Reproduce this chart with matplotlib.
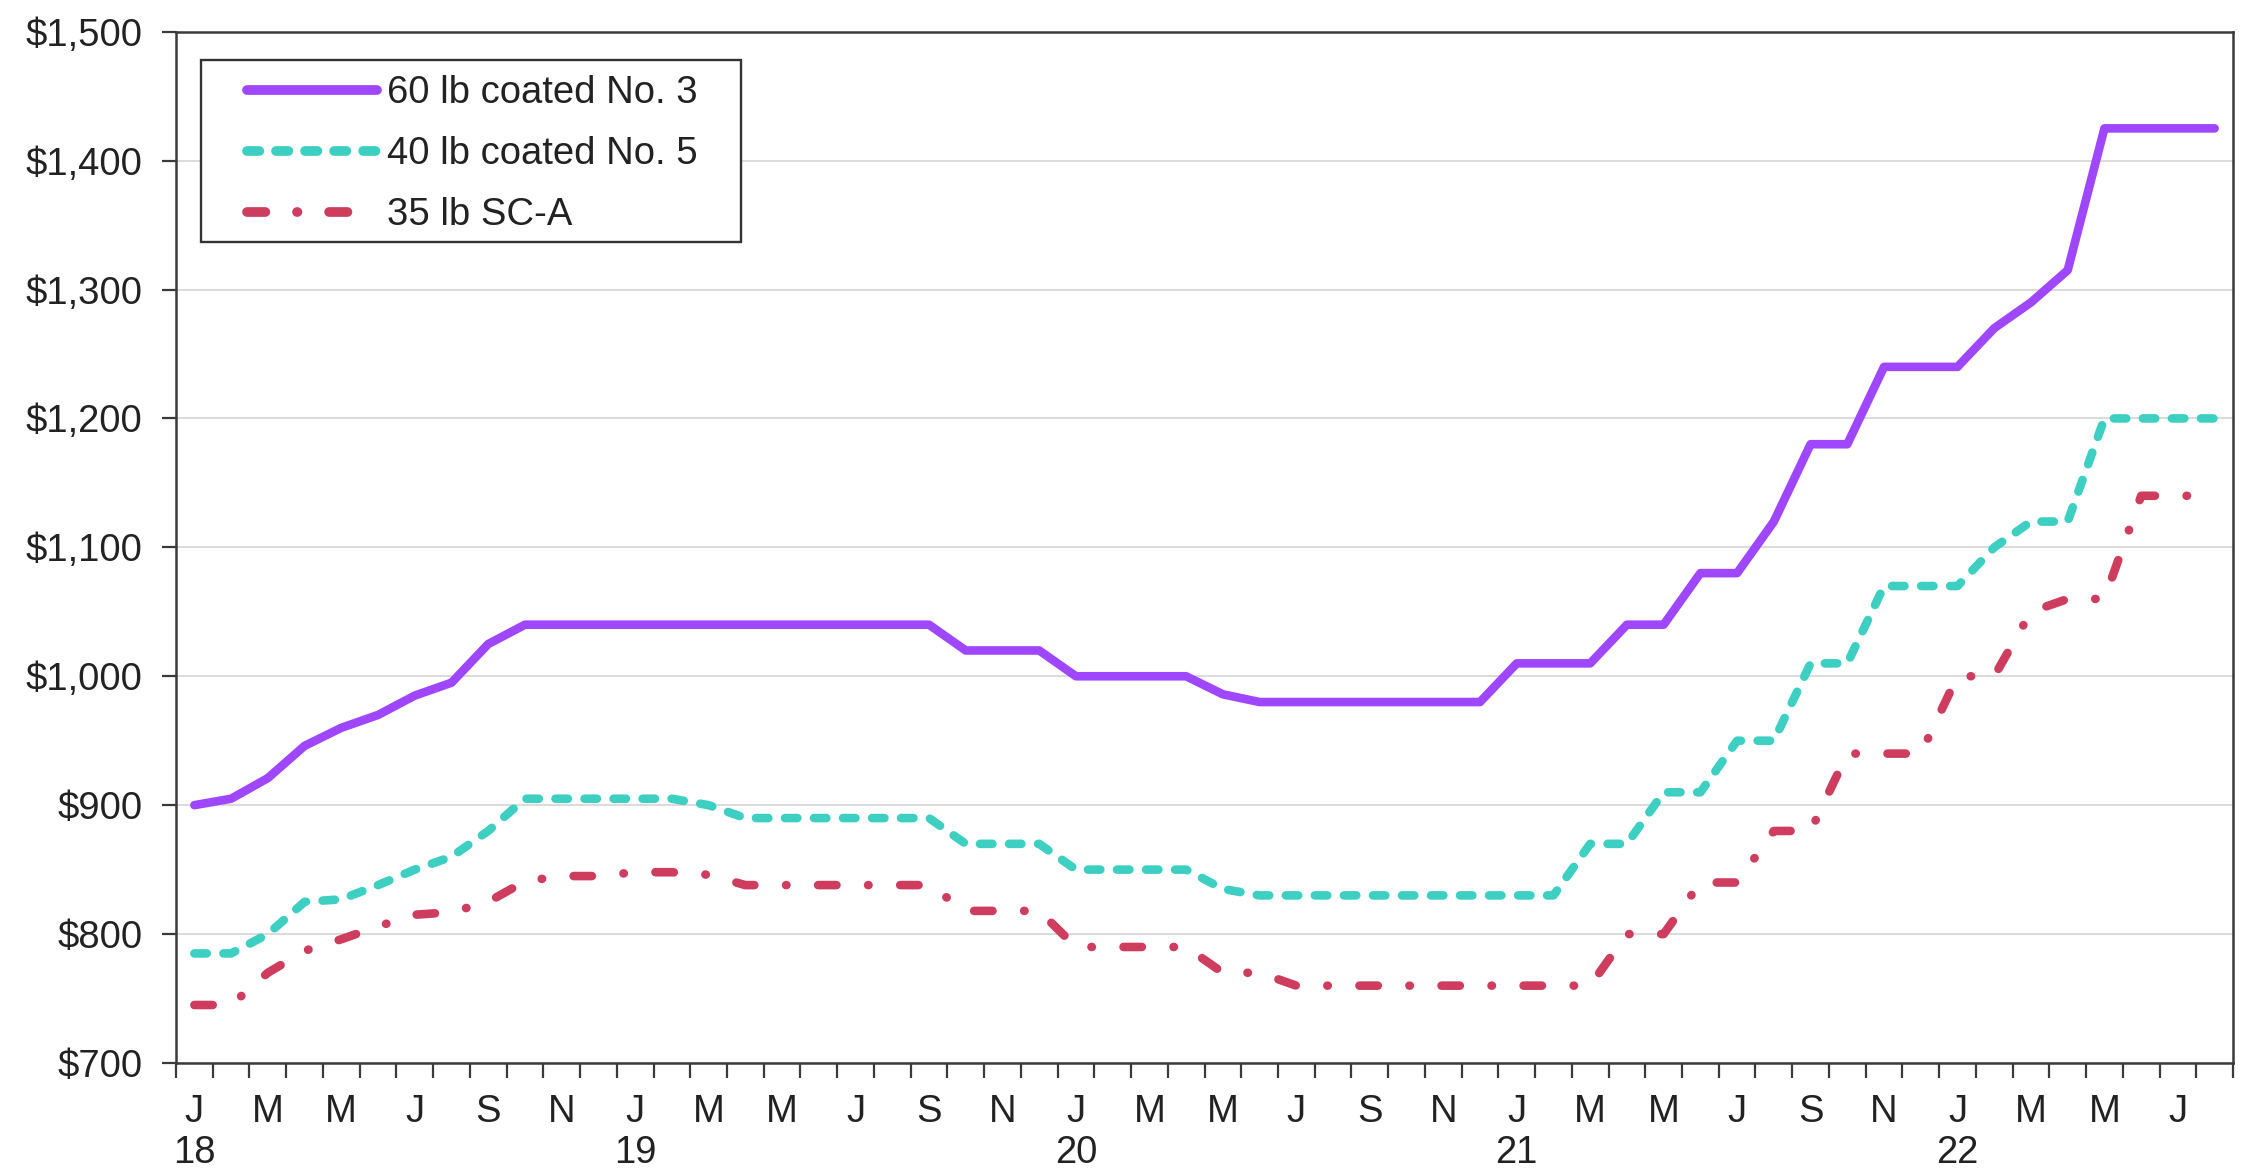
import numpy as np
import matplotlib
matplotlib.use("Agg")
import matplotlib.pyplot as plt
from matplotlib.patches import Rectangle
from matplotlib.ticker import FuncFormatter, FixedLocator

# Monthly prices, January 2018 through August 2022 (dollars per ton)
coated_60_no3 = [
    900, 905, 921, 946, 960, 970, 985, 995, 1025, 1040, 1040, 1040,      # 2018
    1040, 1040, 1040, 1040, 1040, 1040, 1040, 1040, 1040, 1020, 1020, 1020,  # 2019
    1000, 1000, 1000, 1000, 986, 980, 980, 980, 980, 980, 980, 980,      # 2020
    1010, 1010, 1010, 1040, 1040, 1080, 1080, 1120, 1180, 1180, 1240, 1240,  # 2021
    1240, 1270, 1290, 1315, 1425, 1425, 1425, 1425,                      # 2022
]
coated_40_no5 = [
    785, 785, 800, 825, 827, 838, 850, 860, 880, 905, 905, 905,
    905, 905, 900, 890, 890, 890, 890, 890, 890, 870, 870, 870,
    850, 850, 850, 850, 835, 830, 830, 830, 830, 830, 830, 830,
    830, 830, 870, 870, 910, 910, 950, 950, 1010, 1010, 1070, 1070,
    1070, 1100, 1120, 1120, 1200, 1200, 1200, 1200,
]
sc_a_35 = [
    745, 745, 770, 787, 796, 806, 815, 817, 825, 841, 845, 845,
    848, 848, 846, 838, 838, 838, 838, 838, 838, 818, 818, 818,
    790, 790, 790, 790, 770, 770, 760, 760, 760, 760, 760, 760,
    760, 760, 760, 800, 800, 840, 840, 880, 880, 940, 940, 940,
    1000, 1000, 1050, 1060, 1060, 1140, 1140, 1140,
]

series_labels = ["60 lb coated No. 3", "40 lb coated No. 5", "35 lb SC-A"]
month_letters = ["J", "F", "M", "A", "M", "J", "J", "A", "S", "O", "N", "D"]
start_year = 18
y_ticks = [700, 800, 900, 1000, 1100, 1200, 1300, 1400, 1500]

plt.rcParams["font.family"] = ["Liberation Sans", "DejaVu Sans"]
plt.rcParams["lines.scale_dashes"] = False

TEXT = "#222222"
SPINE = "#3a3a3a"
PURPLE = "#9F46FF"
TEAL = "#3DCFC2"
RED = "#CF3D5E"
FS = 27.5
LW = 6.2

fig = plt.figure(figsize=(22.47, 11.73), dpi=100)
ax = fig.add_axes([0.07833, 0.09378, 0.91544, 0.87920])

n = len(coated_60_no3)
x = np.arange(n) + 0.5

common = dict(solid_capstyle="round", solid_joinstyle="round",
              dash_capstyle="round", dash_joinstyle="round")
ax.plot(x, coated_60_no3, color=PURPLE, lw=LW, label=series_labels[0],
        zorder=3, **common)
ax.plot(x, coated_40_no5, color=TEAL, lw=LW, dashes=(8.9, 12.0),
        label=series_labels[1], zorder=3, **common)
ax.plot(x, sc_a_35, color=RED, lw=LW, dashes=(13.2, 22.8, 0.3, 22.8),
        label=series_labels[2], zorder=3, **common)

# Axes limits and grid
ax.set_xlim(0, n)
ax.set_ylim(y_ticks[0], y_ticks[-1])
ax.set_yticks(y_ticks)
ax.yaxis.set_major_formatter(FuncFormatter(lambda v, p: f"${v:,.0f}"))
ax.grid(axis="y", color="#d4d4d4", lw=1.2, zorder=0)
ax.set_axisbelow(True)

for s in ax.spines.values():
    s.set_color(SPINE)
    s.set_linewidth(1.8)

# Month boundary ticks, labels centred on every other month
ax.xaxis.set_major_locator(FixedLocator(np.arange(0, n + 1)))
ax.xaxis.set_major_formatter(FuncFormatter(lambda v, p: ""))
label_pos = np.arange(0, n, 2) + 0.5
label_txt = []
for m in range(0, n, 2):
    letter = month_letters[m % 12]
    if m % 12 == 0:
        letter += "\n" + str(start_year + m // 12)
    label_txt.append(letter)
ax.set_xticks(label_pos, minor=True)
ax.set_xticklabels(label_txt, minor=True)

ax.tick_params(axis="x", which="major", direction="out", length=10.8,
               width=1.6, color=SPINE)
ax.tick_params(axis="x", which="minor", length=0, pad=22, labelsize=FS,
               labelcolor=TEXT)
for t in ax.get_xticklabels(minor=True):
    t.set_linespacing(1.2)
ax.tick_params(axis="y", direction="out", length=10, width=1.6, color=SPINE,
               pad=14, labelsize=FS, labelcolor=TEXT)

# Legend with a square frame
ax.add_patch(Rectangle((0.01215, 0.9726 - 0.1765), 0.2625, 0.1765,
                       transform=ax.transAxes, facecolor="white",
                       edgecolor="#333333", lw=1.7, zorder=4))
leg = ax.legend(loc="upper left", bbox_to_anchor=(0.0345, 0.958),
                frameon=False, fontsize=FS, borderpad=0, borderaxespad=0,
                handlelength=3.4, handletextpad=0.26, labelspacing=0.66)
leg.set_zorder(5)
for line in leg.get_lines():
    line.set_linewidth(7.0)
for t in leg.get_texts():
    t.set_color(TEXT)

fig.savefig("out.png", dpi=100, facecolor="white")
